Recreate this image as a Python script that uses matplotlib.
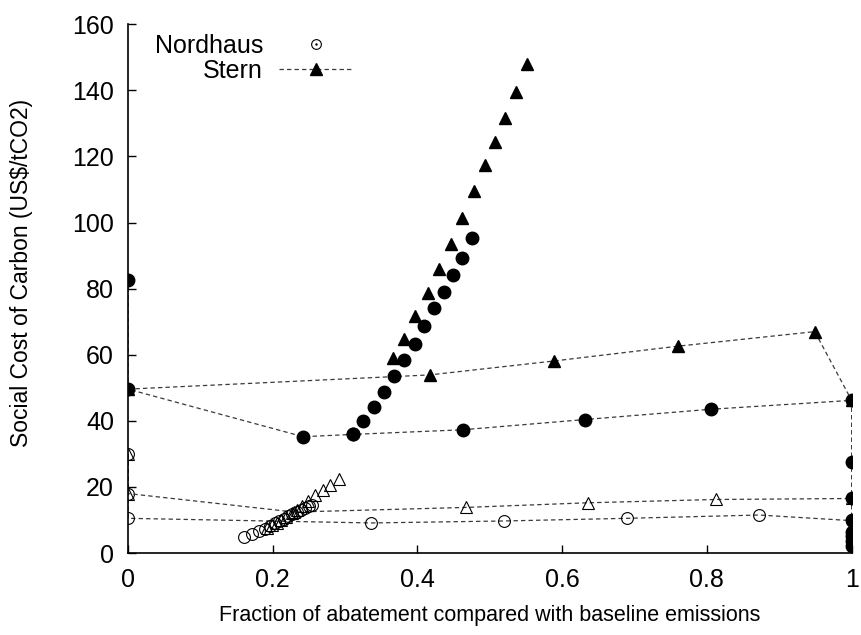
import matplotlib
matplotlib.use("Agg")
import matplotlib.pyplot as plt
from matplotlib.lines import Line2D

plt.rcParams["font.family"] = ["Liberation Sans", "DejaVu Sans"]

# Stern, filled circles: abatement curve (points only)
stern_circ_curve_x = [0.311, 0.325, 0.340, 0.354, 0.368, 0.381, 0.396, 0.409, 0.423, 0.436, 0.449, 0.462, 0.476]
stern_circ_curve_y = [35.9, 39.9, 44.3, 48.8, 53.6, 58.4, 63.4, 68.7, 74.0, 78.9, 84.0, 89.4, 95.4]

# Stern, filled triangles: abatement curve (points only)
stern_tri_curve_x = [0.366, 0.381, 0.397, 0.414, 0.430, 0.446, 0.462, 0.478, 0.493, 0.507, 0.521, 0.536, 0.551]
stern_tri_curve_y = [58.9, 64.7, 71.7, 78.6, 86.0, 93.5, 101.5, 109.5, 117.4, 124.5, 131.8, 139.6, 147.9]

# Stern, filled circles: dashed path
stern_circ_line_x = [0, 0, 0.242, 0.311, 0.4625, 0.6315, 0.805, 1, 1, 1, 1, 1, 1, 1, 1]
stern_circ_line_y = [82.6, 49.6, 35.2, 35.9, 37.3, 40.4, 43.5, 46.2, 27.6, 16.5, 10.0, 6.5, 5.0, 3.5, 2.0]

# Stern, filled triangles: dashed path
stern_tri_line_x = [0, 0.417, 0.588, 0.760, 0.949, 1]
stern_tri_line_y = [49.6, 53.9, 58.1, 62.6, 67.0, 46.2]

# Nordhaus, open triangles: abatement curve (points only)
nord_tri_curve_x = [0.192, 0.1985, 0.2055, 0.212, 0.219, 0.226, 0.233, 0.241, 0.249, 0.258, 0.269, 0.279, 0.292]
nord_tri_curve_y = [7.7, 8.4, 9.2, 10.0, 11.0, 12.0, 13.0, 14.3, 15.7, 17.5, 19.1, 20.6, 22.3]

# Nordhaus, open circles: abatement curve (points only)
nord_circ_curve_x = [0.160, 0.172, 0.181, 0.189, 0.196, 0.203, 0.209, 0.215, 0.221, 0.227, 0.233, 0.239, 0.245, 0.250, 0.254]
nord_circ_curve_y = [4.8, 5.8, 6.6, 7.4, 8.2, 9.0, 9.7, 10.4, 11.1, 11.8, 12.5, 13.1, 13.7, 14.2, 14.6]

# Nordhaus, open triangles: dashed path
nord_tri_line_x = [0, 0, 0.23, 0.467, 0.635, 0.812, 1]
nord_tri_line_y = [30, 18, 12.4, 13.8, 15.2, 16.2, 16.5]

# Nordhaus, open circles: dashed path
nord_circ_line_x = [0, 0, 0, 0.336, 0.52, 0.689, 0.872, 1]
nord_circ_line_y = [30, 18, 10.5, 9.1, 9.7, 10.5, 11.5, 9.8]

fig = plt.figure(figsize=(8.62, 6.35), dpi=100)
ax = fig.add_axes([0.1485, 0.1291, 0.8395, 0.8326])

dash = (0, (3.5, 2.5))
lc = "#3a3a3a"

# dashed paths (markers only where the line visits)
ax.plot(nord_circ_line_x, nord_circ_line_y, linestyle=dash, color=lc, lw=0.9,
        marker="o", ms=8.5, mfc="none", mec="black", mew=0.8)
ax.plot(nord_tri_line_x, nord_tri_line_y, linestyle=dash, color=lc, lw=0.9,
        marker="^", ms=8.5, mfc="none", mec="black", mew=0.8)
ax.plot(stern_circ_line_x, stern_circ_line_y, linestyle=dash, color=lc, lw=0.9,
        marker="o", ms=9, mfc="black", mec="black")
ax.plot(stern_tri_line_x, stern_tri_line_y, linestyle=dash, color=lc, lw=0.9,
        marker="^", ms=8, mfc="black", mec="black")

# point-only curves
ax.plot(nord_circ_curve_x, nord_circ_curve_y, linestyle="none",
        marker="o", ms=8.5, mfc="none", mec="black", mew=0.8)
ax.plot(nord_tri_curve_x, nord_tri_curve_y, linestyle="none",
        marker="^", ms=8.5, mfc="none", mec="black", mew=0.8)
ax.plot(stern_circ_curve_x, stern_circ_curve_y, linestyle="none",
        marker="o", ms=9, mfc="black", mec="black")
ax.plot(stern_tri_curve_x, stern_tri_curve_y, linestyle="none",
        marker="^", ms=8, mfc="black", mec="black")

ax.set_xlim(0, 1)
ax.set_ylim(0, 160)
ax.set_xticks([0, 0.2, 0.4, 0.6, 0.8, 1])
ax.set_xticklabels(["0", "0.2", "0.4", "0.6", "0.8", "1"])
ax.set_yticks(range(0, 161, 20))
ax.tick_params(direction="in", length=6, width=1, labelsize=18, pad=10)
ax.tick_params(axis="x", pad=11)
for side in ("top", "right"):
    ax.spines[side].set_visible(False)
for side in ("left", "bottom"):
    ax.spines[side].set_linewidth(1.2)

ax.set_xlabel("Fraction of abatement compared with baseline emissions", fontsize=15.5, labelpad=9)
ax.set_ylabel("Social Cost of Carbon (US$/tCO2)", fontsize=16.5)
ax.yaxis.set_label_coords(-0.131, 0.53)

# legend, gnuplot style: label first, right aligned
h_nord = (Line2D([], [], linestyle="none", marker="o", ms=7, mfc="none", mec="black", mew=0.8),
          Line2D([], [], linestyle="none", marker=".", ms=1.5, color="black"))
h_stern = Line2D([], [], linestyle=dash, color=lc, lw=0.9, marker="^", ms=8, mfc="black", mec="black")
ax.legend([h_nord, h_stern], ["Nordhaus", "Stern"], loc="upper left",
          bbox_to_anchor=(0.037, 0.982), frameon=False, markerfirst=False,
          fontsize=18, handlelength=2.9, handletextpad=0.65, labelspacing=0.05,
          borderaxespad=0, borderpad=0)

fig.savefig("out.png", dpi=100)
